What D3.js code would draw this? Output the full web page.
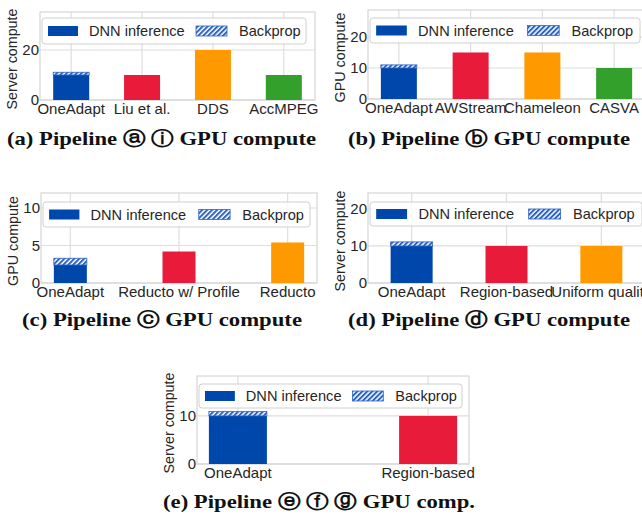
<!DOCTYPE html>
<html><head><meta charset="utf-8">
<script src="https://cdn.jsdelivr.net/npm/d3@7"></script>
<style>body{margin:0;background:#fff}svg{display:block}</style>
</head><body>
<svg id="c" width="642" height="519"></svg>
<script>
// ---- data ----
const catsA = ["OneAdapt","Liu et al.","DDS","AccMPEG"];
const infA  = [10, 10, 20, 10];
const bpA   = [1.1, 0, 0, 0];
const ticksA = [0, 20];

const catsB = ["OneAdapt","AWStream","Chameleon","CASVA"];
const infB  = [10, 15, 15, 10];
const bpB   = [1.0, 0, 0, 0];
const ticksB = [0, 10, 20];

const catsC = ["OneAdapt","Reducto w/ Profile","Reducto"];
const infC  = [2.4, 4.2, 5.4];
const bpC   = [0.9, 0, 0];
const ticksC = [0, 5, 10];

const catsD = ["OneAdapt","Region-based","Uniform quality"];
const infD  = [10, 10, 10];
const bpD   = [1.1, 0, 0];
const ticksD = [0, 10, 20];

const catsE = ["OneAdapt","Region-based"];
const infE  = [10, 10];
const bpE   = [0.9, 0];
const ticksE = [0, 10];

const legendLabels = ["DNN inference","Backprop"];
const colors = ["#0047ab","#e81b3b","#ff9900","#33a02c"];

const panels = [
 {cats:catsA, inf:infA, bp:bpA, ticks:ticksA, ylabel:"Server compute",
  caption:"(a) Pipeline \u24D0 \u24D8  GPU compute",
  L:40,R:315,T:12,B:100,ymax:35.2,pad:0.44,bw:36,
  leg:[42,18,264,26], capX:[7,316], capY:145},
 {cats:catsB, inf:infB, bp:bpB, ticks:ticksB, ylabel:"GPU compute",
  caption:"(b) Pipeline \u24D1  GPU compute",
  L:368,R:645,T:10,B:99,ymax:28.7,pad:0.43,bw:36,
  leg:[370,18,270,25], capX:[348,630], capY:145},
 {cats:catsC, inf:infC, bp:bpC, ticks:ticksC, ylabel:"GPU compute",
  caption:"(c) Pipeline \u24D2  GPU compute",
  L:41,R:317,T:193,B:283,ymax:12,pad:0.27,bw:33,
  leg:[43,202,267,25], capX:[22,302], capY:326},
 {cats:catsD, inf:infD, bp:bpD, ticks:ticksD, ylabel:"Server compute",
  caption:"(d) Pipeline \u24D3  GPU compute",
  L:368,R:645,T:193,B:283,ymax:24.3,pad:0.46,bw:42,
  leg:[370,202,272,24], capX:[348,630], capY:326},
 {cats:catsE, inf:infE, bp:bpE, ticks:ticksE, ylabel:"Server compute",
  caption:"(e) Pipeline \u24D4 \u24D5 \u24D6  GPU comp.",
  L:197,R:469,T:376,B:464,ymax:18.3,pad:0.215,bw:58,
  leg:[199,384,263,24], capX:[163,475], capY:508}
];

const svg = d3.select("#c");
const defs = svg.append("defs");
const pat = defs.append("pattern").attr("id","hatch").attr("patternUnits","userSpaceOnUse")
  .attr("width",3.5).attr("height",3.5).attr("patternTransform","rotate(45)");
pat.append("rect").attr("width",3.5).attr("height",3.5).attr("fill","#ffffff");
pat.append("rect").attr("width",2).attr("height",3.5).attr("fill","#2c64c4");

const FONT = "'Liberation Sans', Arial, sans-serif";
const txt = "#262626";
const grid = "#dedede";

panels.forEach(p => {
  const g = svg.append("g");
  const n = p.cats.length;
  const x = d3.scaleLinear().domain([-p.pad, n-1+p.pad]).range([p.L, p.R]);
  const y = d3.scaleLinear().domain([0, p.ymax]).range([p.B, p.T]);

  // grid
  g.selectAll(".hg").data(p.ticks).enter().append("line")
    .attr("x1",p.L).attr("x2",p.R).attr("y1",d=>y(d)).attr("y2",d=>y(d))
    .attr("stroke",grid).attr("stroke-width",1.2);
  g.selectAll(".vg").data(p.cats).enter().append("line")
    .attr("x1",(d,i)=>x(i)).attr("x2",(d,i)=>x(i)).attr("y1",p.T).attr("y2",p.B)
    .attr("stroke",grid).attr("stroke-width",1.2);
  // frame
  g.append("rect").attr("x",p.L).attr("y",p.T).attr("width",p.R-p.L).attr("height",p.B-p.T)
    .attr("fill","none").attr("stroke","#d6d6d6").attr("stroke-width",1.2);

  // bars
  g.selectAll(".bar").data(p.inf).enter().append("rect")
    .attr("x",(d,i)=>x(i)-p.bw/2).attr("width",p.bw)
    .attr("y",d=>y(d)).attr("height",d=>p.B-y(d))
    .attr("fill",(d,i)=>colors[i]);
  g.selectAll(".bp").data(p.bp.map((b,i)=>({b,i,base:p.inf[i]})).filter(d=>d.b>0)).enter().append("rect")
    .attr("x",d=>x(d.i)-p.bw/2).attr("width",p.bw)
    .attr("y",d=>y(d.base+d.b)).attr("height",d=>y(d.base)-y(d.base+d.b))
    .attr("fill","url(#hatch)").attr("stroke","#2c64c4").attr("stroke-width",0.8);

  // y ticks
  g.selectAll(".yt").data(p.ticks).enter().append("text")
    .attr("x",p.L-1).attr("y",d=>y(d)).attr("dy","0.36em").attr("text-anchor","end")
    .attr("font-family",FONT).attr("font-size",15).attr("fill",txt).text(d=>d);
  // x ticks
  g.selectAll(".xt").data(p.cats).enter().append("text")
    .attr("x",(d,i)=>x(i)).attr("y",p.B+13.5).attr("text-anchor","middle")
    .attr("font-family",FONT).attr("font-size",15).attr("fill",txt).text(d=>d);
  // y label
  g.append("text").attr("transform",`translate(${p.L-28},${(p.T+p.B)/2+3}) rotate(-90)`)
    .attr("dy","0.35em")
    .attr("text-anchor","middle").attr("font-family",FONT).attr("font-size",14.3).attr("fill",txt)
    .text(p.ylabel);

  // legend
  const [lx,ly,lw,lh] = p.leg;
  g.append("rect").attr("x",lx).attr("y",ly).attr("width",lw).attr("height",lh).attr("rx",3)
    .attr("fill","rgba(255,255,255,0.85)").attr("stroke","#d0d0d0").attr("stroke-width",1);
  const s = lw/264;
  const cy = ly+lh/2;
  g.append("rect").attr("x",lx+6*s).attr("y",cy-5).attr("width",30*s).attr("height",10).attr("fill",colors[0]);
  g.append("text").attr("x",lx+47*s).attr("y",cy).attr("dy","0.36em").attr("font-family",FONT)
    .attr("font-size",14.6).attr("fill",txt).text(legendLabels[0]);
  g.append("rect").attr("x",lx+154*s).attr("y",cy-5).attr("width",31*s).attr("height",10)
    .attr("fill","url(#hatch)").attr("stroke","#2c64c4").attr("stroke-width",0.8);
  g.append("text").attr("x",lx+197*s).attr("y",cy).attr("dy","0.36em").attr("font-family",FONT)
    .attr("font-size",14.6).attr("fill",txt).text(legendLabels[1]);

  // caption
  g.append("text").attr("x",p.capX[0]).attr("y",p.capY)
    .attr("font-family","'Liberation Serif','DejaVu Serif',serif").attr("font-weight","bold")
    .attr("font-size",19).attr("fill","#111")
    .attr("textLength",p.capX[1]-p.capX[0]).attr("lengthAdjust","spacingAndGlyphs")
    .text(p.caption);
});
</script>
</body></html>
